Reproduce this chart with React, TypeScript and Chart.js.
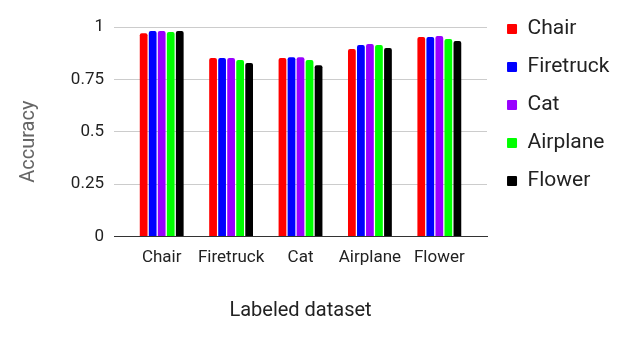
import React, { useEffect, useRef } from "react";
import { Chart, registerables } from "chart.js";

Chart.register(...registerables);

const categories = ["Chair", "Firetruck", "Cat", "Airplane", "Flower"];
const seriesNames = ["Chair", "Firetruck", "Cat", "Airplane", "Flower"];
const seriesColors = ["#ff0000", "#0000ff", "#9900ff", "#00ff00", "#000000"];
const chairValues = [0.970, 0.852, 0.852, 0.895, 0.952];
const firetruckValues = [0.981, 0.852, 0.856, 0.914, 0.952];
const catValues = [0.981, 0.852, 0.856, 0.919, 0.957];
const airplaneValues = [0.976, 0.842, 0.842, 0.914, 0.943];
const flowerValues = [0.981, 0.828, 0.818, 0.900, 0.933];
const seriesValues = [chairValues, firetruckValues, catValues, airplaneValues, flowerValues];
const yTicks = [0, 0.25, 0.5, 0.75, 1];
const yTickLabels = ["0", "0.25", "0.5", "0.75", "1"];
const yTitle = "Accuracy";
const xTitle = "Labeled dataset";

const FONT = "Roboto";
const X_INSET = 13;
const LEGEND_SHIFT_X = 3;
const LEGEND_SHIFT_Y = 1.5;

const layoutPlugin = {
  id: "layoutTweaks",
  afterLayout(chart: any) {
    const x = chart.scales.x;
    x._startPixel = x.left + X_INSET;
    x._endPixel = x.right - X_INSET;
    x._length = x._endPixel - x._startPixel;
    if (chart.legend) {
      chart.legend.left += LEGEND_SHIFT_X;
      chart.legend.right += LEGEND_SHIFT_X;
      chart.legend.top += LEGEND_SHIFT_Y;
      chart.legend.bottom += LEGEND_SHIFT_Y;
    }
  },
};

export default function App() {
  const ref = useRef<HTMLCanvasElement | null>(null);
  useEffect(() => {
    if (!ref.current) return;
    const chart = new Chart(ref.current, {
      type: "bar",
      data: {
        labels: categories,
        datasets: seriesNames.map((name, i) => ({
          label: name,
          data: seriesValues[i],
          backgroundColor: seriesColors[i],
          borderWidth: 0,
          borderRadius: 2,
          categoryPercentage: 0.65,
          barPercentage: 0.86,
        })),
      },
      plugins: [layoutPlugin],
      options: {
        responsive: false,
        animation: false,
        layout: { padding: { left: 0, right: 13.5, top: 0, bottom: 0 } },
        plugins: {
          tooltip: { enabled: false },
          title: {
            display: true,
            text: "",
            fullSize: false,
            padding: 0,
            font: { size: 27, lineHeight: 1 },
          },
          legend: {
            position: "right",
            align: "start",
            labels: {
              boxWidth: 10,
              boxHeight: 10,
              useBorderRadius: true,
              borderRadius: 1,
              padding: 17,
              color: "#222222",
              font: { family: FONT, size: 21 },
            },
          },
        },
        scales: {
          x: {
            grid: { display: false, drawTicks: false },
            border: { display: true, color: "#333333", width: 1 },
            ticks: {
              color: "#222222",
              font: { family: FONT, size: 17 },
              padding: 11,
            },
            title: {
              display: true,
              text: xTitle,
              color: "#222222",
              font: { family: FONT, size: 20 },
              padding: { top: 0, bottom: 15 },
            },
            afterFit(scale: any) {
              scale.height = 101.5;
            },
          },
          y: {
            min: 0,
            max: 1,
            afterBuildTicks(scale: any) {
              scale.ticks = yTicks.map((v) => ({ value: v }));
            },
            grid: {
              drawTicks: false,
              color: (ctx: any) => (ctx.tick && ctx.tick.value === 0 ? "#333333" : "#cccccc"),
              lineWidth: 1,
            },
            border: { display: false },
            ticks: {
              color: "#222222",
              font: { family: FONT, size: 17 },
              padding: 10,
              callback: (value: any) => {
                const idx = yTicks.indexOf(Number(value));
                return idx >= 0 ? yTickLabels[idx] : String(value);
              },
            },
            title: {
              display: true,
              text: yTitle + "    ",
              color: "#666666",
              font: { family: FONT, size: 20 },
              padding: { top: 17, bottom: 0 },
            },
            afterFit(scale: any) {
              scale.width = 114;
            },
          },
        },
      },
    });
    return () => chart.destroy();
  }, []);
  return (
    <canvas
      ref={ref}
      width={630}
      height={338}
      style={{ position: "absolute", left: 0, top: 0, display: "block" }}
    />
  );
}
